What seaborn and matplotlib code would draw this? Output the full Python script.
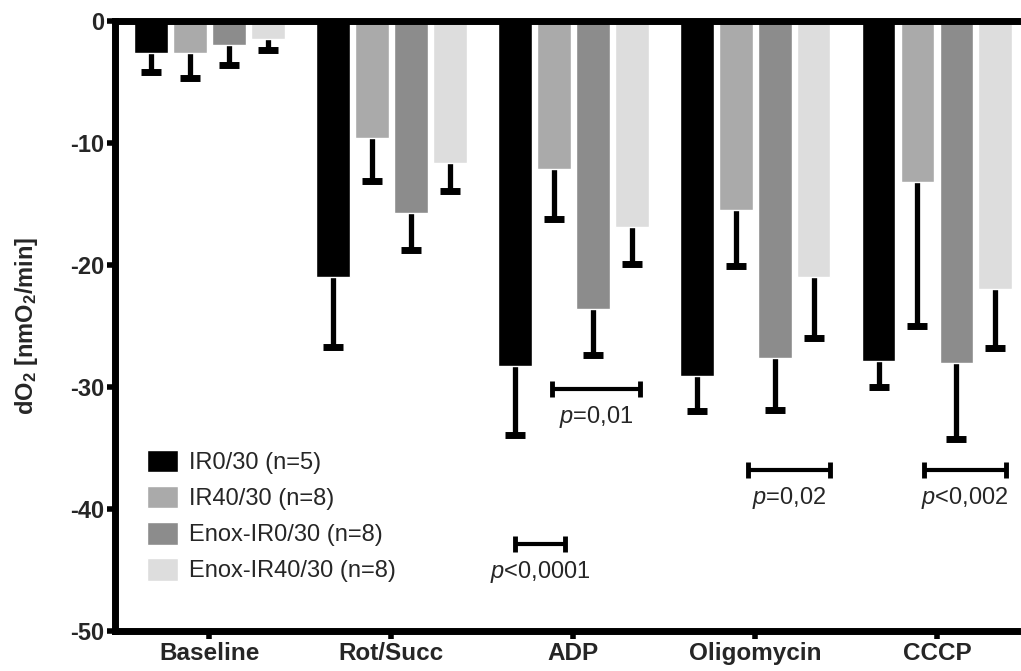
import numpy as np
import pandas as pd
import matplotlib
matplotlib.use("Agg")
import matplotlib.pyplot as plt
import seaborn as sns

categories = ["Baseline", "Rot/Succ", "ADP", "Oligomycin", "CCCP"]
groups = ["IR0/30 (n=5)", "IR40/30 (n=8)", "Enox-IR0/30 (n=8)", "Enox-IR40/30 (n=8)"]
ir0 = [-2.6, -21.0, -28.3, -29.1, -27.9]
ir40 = [-2.6, -9.6, -12.1, -15.5, -13.2]
enox0 = [-2.0, -15.7, -23.6, -27.6, -28.0]
enox40 = [-1.5, -11.6, -16.9, -21.0, -22.0]
ir0_err = [1.6, 5.7, 5.6, 2.9, 2.1]
ir40_err = [2.1, 3.5, 4.1, 4.6, 11.8]
enox0_err = [1.6, 3.1, 3.8, 4.3, 6.3]
enox40_err = [0.9, 2.3, 3.0, 5.0, 4.8]
colors = ["#000000", "#aaaaaa", "#8c8c8c", "#dddddd"]

# significance brackets (x in category units, y in data units)
sig_x0 = [1.68, 1.885, 2.96, 3.93]
sig_x1 = [1.955, 2.37, 3.41, 4.38]
sig_y = [-42.9, -30.2, -36.8, -36.8]
sig_lbl = ["$p$<0,0001", "$p$=0,01", "$p$=0,02", "$p$<0,002"]

sns.set_style("white")
plt.rcParams["font.family"] = ["Liberation Sans", "DejaVu Sans"]
plt.rcParams["mathtext.fontset"] = "custom"
plt.rcParams["mathtext.rm"] = "Liberation Sans"
plt.rcParams["mathtext.it"] = "Liberation Sans:italic"
plt.rcParams["mathtext.bf"] = "Liberation Sans:bold"

vals = [ir0, ir40, enox0, enox40]
errs = [ir0_err, ir40_err, enox0_err, enox40_err]
rows = []
for g, v in zip(groups, vals):
    for c, x in zip(categories, v):
        rows.append({"cond": c, "val": x, "group": g})
df = pd.DataFrame(rows)

fig = plt.figure(figsize=(10.21, 6.71), dpi=100)
ax = fig.add_axes([0.1131, 0.0596, 0.883, 0.9091])
sns.barplot(data=df, x="cond", y="val", hue="group", order=categories, hue_order=groups,
            palette=colors, saturation=1, width=0.857, gap=0.13, errorbar=None, ax=ax)

bar_conts = list(ax.containers)
for cont in bar_conts:
    for bar in cont:
        bar.set_zorder(2)

for cont, e in zip(bar_conts, errs):
    for bar, err in zip(cont, e):
        xc = bar.get_x() + bar.get_width() / 2
        yv = bar.get_y() + bar.get_height()
        eb = ax.errorbar(xc, yv, yerr=[[err], [0]], fmt="none", ecolor="black",
                         elinewidth=3.8, capsize=7, capthick=5, zorder=1)
        caps = eb.lines[1]
        if len(caps) > 1:
            caps[1].set_visible(False)

for x0, x1, yv, lbl in zip(sig_x0, sig_x1, sig_y, sig_lbl):
    ax.errorbar([(x0 + x1) / 2], [yv], xerr=[[(x1 - x0) / 2]], fmt="none", ecolor="black",
                elinewidth=3, capsize=6, capthick=3.5)
    ax.text((x0 + x1) / 2, yv - 1.2, lbl, ha="center", va="top", fontsize=17)

ax.set_ylim(-50, 0)
ax.set_xlim(-0.516, 4.44)
ax.set_yticks([0, -10, -20, -30, -40, -50])
ax.set_yticklabels(["0", "-10", "-20", "-30", "-40", "-50"])
for lab in ax.get_yticklabels():
    lab.set_fontweight("bold")
    lab.set_fontsize(17)
for lab in ax.get_xticklabels():
    lab.set_fontweight("bold")
    lab.set_fontsize(17.5)
ax.tick_params(axis="both", direction="out", length=6, width=4, color="black", pad=2,
               left=True, bottom=True)
ax.set_xlabel("")
ax.set_ylabel(r"dO$_\mathbf{2}$ [nmO$_\mathbf{2}$/min]", fontsize=17, fontweight="bold")
ax.yaxis.set_label_coords(-0.0835, 0.5)
for s in ["left", "bottom", "top"]:
    ax.spines[s].set_visible(True)
    ax.spines[s].set_linewidth(5)
    ax.spines[s].set_color("black")
ax.spines["right"].set_visible(False)

leg = ax.legend(loc="upper left", bbox_to_anchor=(0.0145, 0.3285), frameon=False, fontsize=17,
                handlelength=1.31, handleheight=1.1, handletextpad=0.47, labelspacing=0.5,
                borderpad=0.3)

fig.savefig("out.png", dpi=100)
